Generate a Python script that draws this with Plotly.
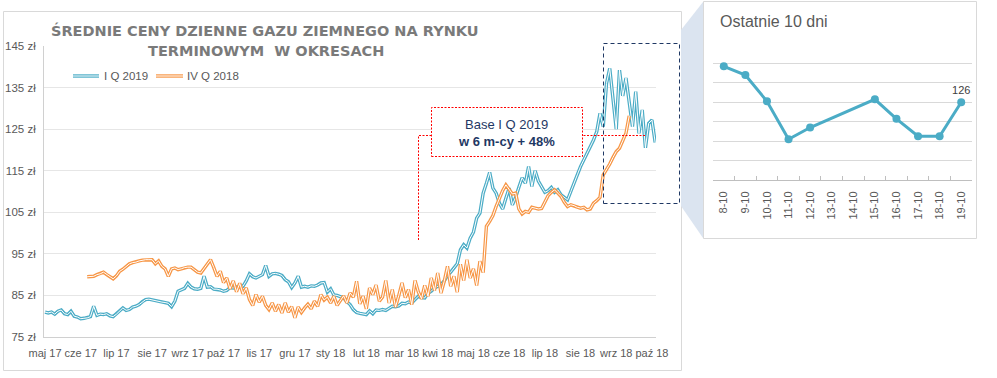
import plotly.graph_objects as go

W, H = 997, 378

# ---------------- data ----------------
month_labels = ["maj 17", "cze 17", "lip 17", "sie 17", "wrz 17", "paź 17", "lis 17",
                "gru 17", "sty 18", "lut 18", "mar 18", "kwi 18", "maj 18", "cze 18",
                "lip 18", "sie 18", "wrz 18", "paź 18"]
label_step = 22          # trading days between axis labels
sample_step = 2          # trading days between stored points

blue_name = "I Q 2019"
blue_start = 0
blue_vals = [
    81.0, 80.8, 81.0, 80.5, 81.2, 81.5, 80.6, 80.4, 81.2, 80.0,
    79.8, 79.4, 79.5, 79.6, 79.9, 82.4, 80.2, 80.5, 80.4, 80.6,
    80.1, 79.9, 80.5, 81.3, 82.0, 81.4, 81.6, 82.2, 82.4, 82.8,
    83.5, 84.0, 84.1, 83.9, 83.7, 83.6, 83.4, 83.3, 83.1, 82.3,
    83.6, 86.0, 86.4, 86.7, 87.9, 87.0, 86.6, 86.5, 86.7, 89.6,
    87.0, 87.1, 86.5, 86.5, 86.3, 86.0, 86.2, 86.9, 86.8, 87.0,
    87.3, 87.2, 88.5, 90.2, 89.5, 89.2, 89.6, 90.0, 92.2, 89.6,
    90.2, 90.3, 90.1, 89.8, 88.8, 88.3, 86.9, 88.0, 89.6, 87.0,
    87.2, 87.0, 87.3, 87.2, 87.5, 88.0, 88.1, 85.8, 86.6, 85.1,
    85.0, 84.6, 84.4, 83.5, 82.8, 81.6, 80.9, 80.7, 80.6, 80.4,
    81.3, 80.6, 81.5, 81.4, 81.6, 81.4, 81.9, 82.4, 82.3, 82.5,
    83.1, 83.0, 83.4, 83.2, 84.0, 84.8, 84.5, 84.4, 85.5, 86.0,
    86.8, 87.2, 87.6, 88.5, 89.8, 90.6, 91.5, 92.6, 96.0, 97.2,
    96.4, 98.8, 100.2, 103.6, 104.8, 109.6, 112.0, 114.6, 110.8, 109.6,
    107.2, 105.8, 108.4, 110.8, 106.8, 108.6, 111.0, 113.3, 112.0, 116.0,
    111.2, 115.0, 112.5, 111.2, 109.8, 110.2, 111.0, 109.8, 110.4, 109.2,
    108.6, 108.0, 110.0, 111.8, 114.0, 116.0, 117.6, 119.0, 120.6, 122.4,
    124.4, 128.8, 125.6, 136.0, 139.6, 132.8, 125.0, 139.2, 133.0, 137.3,
    131.0, 125.6, 134.0, 124.0, 129.6, 120.5, 126.4, 127.2, 121.8,
]

orange_name = "IV Q 2018"
orange_start = 26
orange_vals = [
    89.5, 89.5, 89.6, 90.0, 90.2, 90.6, 90.0, 89.4, 89.0, 89.7,
    90.8, 91.3, 92.0, 92.6, 92.9, 93.0, 93.3, 93.5, 93.6, 93.6,
    93.6, 92.6, 93.3, 92.0, 91.4, 89.6, 91.4, 91.6, 91.2, 91.4,
    91.7, 91.8, 91.8, 91.2, 90.6, 90.4, 91.4, 92.4, 93.6, 91.7,
    89.6, 90.8, 88.1, 89.2, 86.6, 88.5, 85.9, 87.9, 85.4, 86.8,
    84.0, 82.6, 85.2, 83.4, 84.8, 82.6, 81.6, 83.2, 81.2, 82.8,
    80.8, 83.2, 81.0, 82.3, 79.6, 82.2, 80.9, 82.0, 82.9, 81.8,
    83.6, 82.4, 85.2, 83.9, 84.6, 83.2, 84.8, 82.6, 83.8, 84.9,
    83.2, 85.6, 84.6, 88.4, 83.0, 84.8, 81.8, 86.8, 85.2, 87.5,
    83.6, 84.6, 88.6, 83.2, 86.4, 82.2, 85.0, 88.0, 84.5, 86.4,
    82.8, 88.6, 85.9, 84.2, 87.4, 84.8, 89.2, 86.2, 90.4, 85.6,
    88.4, 92.0, 87.2, 89.6, 85.8, 92.5, 88.6, 93.6, 89.2, 91.4,
    87.4, 93.2, 90.5, 101.6, 102.8, 104.2, 106.4, 108.5, 110.2, 111.6,
    110.6, 109.4, 109.6, 105.8, 104.6, 105.2, 105.0, 106.2, 106.0, 105.8,
    105.9, 107.6, 109.0, 109.8, 110.4, 109.6, 108.8, 107.4, 106.4, 106.8,
    106.6, 106.2, 106.0, 106.2, 105.6, 105.8, 107.2, 107.8, 108.6, 114.0,
    115.2, 116.6, 118.2, 119.6, 120.4, 122.4, 124.0, 128.2,
]

inset_days = ["8-10", "9-10", "10-10", "11-10", "12-10", "13-10", "14-10",
              "15-10", "16-10", "17-10", "18-10", "19-10"]
inset_vals = [129.7, 128.8, 126.1, 122.2, 123.4, None, None, 126.3, 124.3, 122.5, 122.5, 126.0]

y_ticks = [75, 85, 95, 105, 115, 125, 135, 145]

# ---------------- styles ----------------
BLUE = "#4bacc6"
ORANGE = "#f79646"
GRID = "#e6e6e6"
AXIS = "#d0d0d0"
TXT = "#595959"
NAVY = "#1f3864"
FONT = "Liberation Sans"


def px(x):
    return x / W


def py(y):
    return 1 - y / H


blue_x = [blue_start + sample_step * i for i in range(len(blue_vals))]
orange_x = [orange_start + sample_step * i for i in range(len(orange_vals))]
tick_idx = [label_step * i for i in range(len(month_labels))]

fig = go.Figure()

# double-line effect: wide coloured line with thin white core
for xs, ys, col, name in [(blue_x, blue_vals, BLUE, blue_name),
                          (orange_x, orange_vals, ORANGE, orange_name)]:
    fig.add_trace(go.Scatter(x=xs, y=ys, mode="lines", name=name,
                             line=dict(color=col, width=3.4), showlegend=False,
                             hoverinfo="skip", xaxis="x", yaxis="y"))
    fig.add_trace(go.Scatter(x=xs, y=ys, mode="lines", name=name,
                             line=dict(color="white", width=1.0), showlegend=False,
                             hoverinfo="skip", xaxis="x", yaxis="y"))

# inset chart
inset_text = ["" for _ in inset_vals]
inset_text[-1] = f"{inset_vals[-1]:.0f}"
fig.add_trace(go.Scatter(x=inset_days, y=inset_vals, mode="lines+markers+text",
                         connectgaps=True, text=inset_text, textposition="top center",
                         textfont=dict(family=FONT, size=11, color="#404040"),
                         line=dict(color=BLUE, width=3),
                         marker=dict(color=BLUE, size=8),
                         showlegend=False, hoverinfo="skip", cliponaxis=False,
                         xaxis="x2", yaxis="y2"))

shapes = []
# frames & callout wedge (below everything)
shapes.append(dict(type="rect", xref="paper", yref="paper", layer="below",
                   x0=px(3.5), x1=px(681.5), y0=py(370.5), y1=py(11.5),
                   line=dict(color="#d9d9d9", width=1), fillcolor="white"))
shapes.append(dict(type="path", xref="paper", yref="paper", layer="below",
                   path=f"M {px(681)},{py(30)} L {px(703)},{py(2)} L {px(703)},{py(238)} L {px(681)},{py(206)} Z",
                   line=dict(width=0), fillcolor="#dbe4f0"))
shapes.append(dict(type="rect", xref="paper", yref="paper", layer="below",
                   x0=px(703.5), x1=px(976.5), y0=py(238.5), y1=py(1.5),
                   line=dict(color="#d9d9d9", width=1), fillcolor="white"))
# dashed zoom box
shapes.append(dict(type="rect", xref="paper", yref="paper", layer="above",
                   x0=px(603.5), x1=px(679.5), y0=py(203.5), y1=py(43.5),
                   line=dict(color=NAVY, width=1, dash="4px,3px")))
# red dotted leader line
shapes.append(dict(type="path", xref="paper", yref="paper", layer="above",
                   path=f"M {px(418.5)},{py(240)} L {px(418.5)},{py(135.5)} L {px(645)},{py(135.5)}",
                   line=dict(color="#ff0000", width=1, dash="2px,1.5px")))
# annotation box
shapes.append(dict(type="rect", xref="paper", yref="paper", layer="above",
                   x0=px(431.5), x1=px(582.5), y0=py(156.5), y1=py(107.5),
                   line=dict(color="#ff0000", width=1, dash="2px,1.5px"), fillcolor="white"))
# legend samples
for x0, x1, col in [(73, 99, BLUE), (156, 183, ORANGE)]:
    shapes.append(dict(type="line", xref="paper", yref="paper", layer="above",
                       x0=px(x0), x1=px(x1), y0=py(76), y1=py(76),
                       line=dict(color=col, width=3.4)))
    shapes.append(dict(type="line", xref="paper", yref="paper", layer="above",
                       x0=px(x0), x1=px(x1), y0=py(76), y1=py(76),
                       line=dict(color="white", width=1.0)))

annotations = []
TITLE_FONT = dict(family="DejaVu Sans", size=14.5, color="#7a7a7a")
annotations.append(dict(xref="paper", yref="paper", x=px(265), y=py(31),
                        text="<b>ŚREDNIE CENY DZIENNE GAZU ZIEMNEGO NA RYNKU</b>",
                        showarrow=False, font=TITLE_FONT, xanchor="center", yanchor="middle"))
annotations.append(dict(xref="paper", yref="paper", x=px(266), y=py(51),
                        text="<b>TERMINOWYM\u00a0 W OKRESACH</b>",
                        showarrow=False, font=TITLE_FONT, xanchor="center", yanchor="middle"))
annotations.append(dict(xref="paper", yref="paper", x=px(102), y=py(76), text=blue_name,
                        showarrow=False, font=dict(family=FONT, size=11.5, color=TXT),
                        xanchor="left", yanchor="middle"))
annotations.append(dict(xref="paper", yref="paper", x=px(185), y=py(76), text=orange_name,
                        showarrow=False, font=dict(family=FONT, size=11.5, color=TXT),
                        xanchor="left", yanchor="middle"))
annotations.append(dict(xref="paper", yref="paper", x=px(506), y=py(124), text="Base I Q 2019",
                        showarrow=False, font=dict(family=FONT, size=13, color=NAVY),
                        xanchor="center", yanchor="middle"))
annotations.append(dict(xref="paper", yref="paper", x=px(506), y=py(142),
                        text="<b>w 6 m-cy + 48%</b>",
                        showarrow=False, font=dict(family=FONT, size=13, color=NAVY),
                        xanchor="center", yanchor="middle"))
annotations.append(dict(xref="paper", yref="paper", x=px(718), y=py(22), text="Ostatnie 10 dni",
                        showarrow=False, font=dict(family=FONT, size=16, color=TXT),
                        xanchor="left", yanchor="middle"))

fig.update_layout(
    width=W, height=H,
    margin=dict(l=0, r=0, t=0, b=0, pad=0, autoexpand=False),
    paper_bgcolor="white", plot_bgcolor="rgba(0,0,0,0)",
    showlegend=False,
    shapes=shapes, annotations=annotations,
    xaxis=dict(domain=[px(44), px(656)], range=[-0.62, 376.5], automargin=False,
               tickmode="array", tickvals=tick_idx, ticktext=month_labels, tickangle=0,
               showgrid=False, zeroline=False, showline=True, linecolor=AXIS, linewidth=1,
               ticks="", ticklabelstandoff=6,
               tickfont=dict(family=FONT, size=11, color=TXT), anchor="y"),
    yaxis=dict(domain=[py(337), py(46)], range=[75, 145], automargin=False,
               tickmode="array", tickvals=y_ticks, ticktext=[f"{v} zł" for v in y_ticks],
               showgrid=True, gridcolor=GRID, gridwidth=1, zeroline=False,
               showline=True, linecolor=AXIS, linewidth=1, ticks="", ticklabelstandoff=5,
               tickfont=dict(family=FONT, size=11.5, color=TXT), anchor="x"),
    xaxis2=dict(domain=[px(713), px(972)], type="category", categoryorder="array",
                categoryarray=inset_days, range=[-0.5, 11.5], automargin=False,
                showgrid=False, zeroline=False, showline=True, linecolor="#bfbfbf",
                ticks="inside", ticklen=4, tickcolor="#bfbfbf", tickson="boundaries",
                tickangle=-90, ticklabelstandoff=6,
                tickfont=dict(family=FONT, size=11, color=TXT), anchor="y2"),
    yaxis2=dict(domain=[py(180), py(44)], range=[118, 132], dtick=2, automargin=False,
                showgrid=True, gridcolor="#d9d9d9", zeroline=False, showline=False,
                showticklabels=False, ticks="", anchor="x2"),
)

fig.write_html("out.html", config={"displayModeBar": False},
               post_script="document.body.style.margin='0';")
